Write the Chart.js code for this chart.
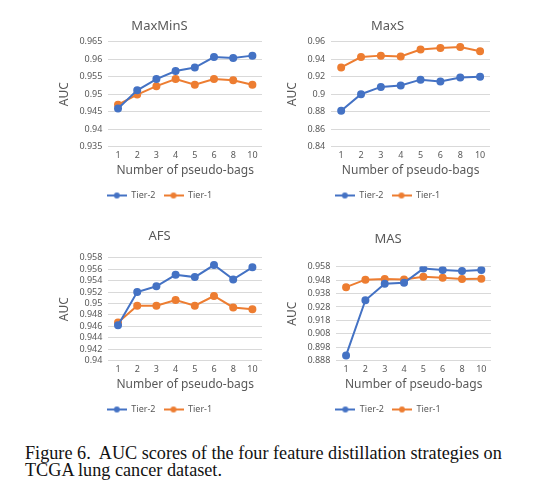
<!DOCTYPE html>
<html>
<head>
<meta charset="utf-8">
<script src="https://cdn.jsdelivr.net/npm/chart.js@4.4.1/dist/chart.umd.min.js"></script>
<style>
  body { margin: 0; background: #fff; width: 540px; height: 492px; position: relative; overflow: hidden; }
  .panel { position: absolute; width: 250px; height: 200px; }
  .panel canvas { width: 250px; height: 200px; }
  #caption {
    position: absolute; left: 25px; top: 445px;
    font-family: "Liberation Serif", "DejaVu Serif", serif;
    font-size: 18.2px; line-height: 17px; color: #111; white-space: nowrap;
  }
</style>
</head>
<body>
<div class="panel" style="left:30px; top:10px;"><canvas id="maxmins" width="250" height="200"></canvas></div>
<div class="panel" style="left:280px; top:10px;"><canvas id="maxs" width="250" height="200"></canvas></div>
<div class="panel" style="left:30px; top:224px;"><canvas id="afs" width="250" height="200"></canvas></div>
<div class="panel" style="left:280px; top:224px;"><canvas id="mas" width="250" height="200"></canvas></div>
<div id="caption">Figure 6.&nbsp; AUC scores of the four feature distillation strategies on<br>TCGA lung cancer dataset.</div>

<script>
// data
const pseudoBags = ['1', '2', '3', '4', '5', '6', '8', '10'];

const maxMinSTier2 = [0.9459, 0.9511, 0.9543, 0.9566, 0.9576, 0.9606, 0.9603, 0.9610];
const maxMinSTier1 = [0.9470, 0.9499, 0.9523, 0.9543, 0.9527, 0.9543, 0.9540, 0.9527];

const maxSTier2 = [0.881, 0.900, 0.9083, 0.910, 0.9166, 0.9146, 0.919, 0.920];
const maxSTier1 = [0.9305, 0.9424, 0.944, 0.943, 0.951, 0.9526, 0.9537, 0.949];

const afsTier2 = [0.9462, 0.9520, 0.9530, 0.9550, 0.9546, 0.9567, 0.9542, 0.9563];
const afsTier1 = [0.9467, 0.9496, 0.9496, 0.9506, 0.9496, 0.9513, 0.9493, 0.9490];

const masTier2 = [0.892, 0.933, 0.9452, 0.946, 0.9565, 0.9555, 0.9547, 0.9555];
const masTier1 = [0.9427, 0.9483, 0.9488, 0.9485, 0.9505, 0.9497, 0.9488, 0.9490];

const BLUE = '#4472C4';
const ORANGE = '#ED7D31';
const GREY = '#595959';
const FONT = '"Noto Sans", "Liberation Sans", sans-serif';

// little line-with-dot icon for legend entries
function legendIcon(color) {
  var c = document.createElement('canvas');
  c.width = 20; c.height = 8;
  var g = c.getContext('2d');
  g.strokeStyle = color; g.lineWidth = 2;
  g.beginPath(); g.moveTo(0, 4); g.lineTo(20, 4); g.stroke();
  g.fillStyle = color;
  g.beginPath(); g.arc(10, 4, 3, 0, Math.PI * 2); g.fill();
  return c;
}

function trim(v) {
  return parseFloat(v.toFixed(4)).toString();
}

function makeChart(id, title, tier2, tier1, yMin, yMax, step, pad) {
  var ctx = document.getElementById(id);
  return new Chart(ctx, {
    type: 'line',
    data: {
      labels: pseudoBags,
      datasets: [{
        label: 'Tier-2',
        data: tier2,
        borderColor: BLUE,
        backgroundColor: BLUE,
        pointStyle: 'circle',
        pointRadius: 3,
        borderWidth: 2,
        tension: 0
      }, {
        label: 'Tier-1',
        data: tier1,
        borderColor: ORANGE,
        backgroundColor: ORANGE,
        pointStyle: 'circle',
        pointRadius: 3,
        borderWidth: 2,
        tension: 0
      }]
    },
    options: {
      responsive: false,
      animation: false,
      layout: { padding: { left: pad.left, right: pad.right, top: 0, bottom: 0 } },
      plugins: {
        title: {
          display: true,
          text: title,
          color: GREY,
          font: { family: FONT, size: 13, weight: 'normal' },
          padding: { top: pad.titleTop, bottom: pad.titleBottom }
        },
        legend: {
          position: 'bottom',
          labels: {
            color: GREY,
            font: { family: FONT, size: 9 },
            usePointStyle: true,
            pointStyleWidth: 20,
            boxHeight: 8,
            padding: 8,
            generateLabels: function(chart) {
              return chart.data.datasets.map(function(ds, i) {
                return {
                  text: ds.label,
                  fontColor: GREY,
                  pointStyle: legendIcon(ds.borderColor),
                  datasetIndex: i,
                  lineWidth: 0,
                  strokeStyle: ds.borderColor,
                  fillStyle: ds.borderColor
                };
              });
            }
          }
        },
        tooltip: { enabled: false }
      },
      scales: {
        x: {
          type: 'category',
          offset: true,
          grid: { display: false, drawTicks: false },
          border: { display: false },
          ticks: { color: GREY, font: { family: FONT, size: 9 }, padding: 3 },
          title: {
            display: true,
            text: 'Number of pseudo-bags',
            color: GREY,
            font: { family: FONT, size: 12 },
            padding: { top: 0, bottom: 5 }
          }
        },
        y: {
          min: yMin,
          max: yMax,
          grid: { color: '#D9D9D9', lineWidth: 1, drawTicks: false },
          border: { display: false },
          ticks: {
            stepSize: step,
            autoSkip: false,
            color: GREY,
            font: { family: FONT, size: 9 },
            padding: 6,
            callback: function(v) { return trim(v); }
          },
          title: {
            display: true,
            text: 'AUC',
            color: GREY,
            font: { family: FONT, size: 12 },
            padding: { top: 0, bottom: 2 }
          }
        }
      }
    }
  });
}

makeChart('maxmins', 'MaxMinS', maxMinSTier2, maxMinSTier1, 0.935, 0.965, 0.005,
  { left: 27, right: 18, titleTop: 8, titleBottom: 8 });
makeChart('maxs', 'MaxS', maxSTier2, maxSTier1, 0.84, 0.96, 0.02,
  { left: 5, right: 40, titleTop: 8, titleBottom: 8 });
makeChart('afs', 'AFS', afsTier2, afsTier1, 0.94, 0.958, 0.002,
  { left: 27, right: 18, titleTop: 4, titleBottom: 14 });
makeChart('mas', 'MAS', masTier2, masTier1, 0.888, 0.958, 0.01,
  { left: 5, right: 39, titleTop: 7, titleBottom: 20 });
</script>
</body>
</html>
